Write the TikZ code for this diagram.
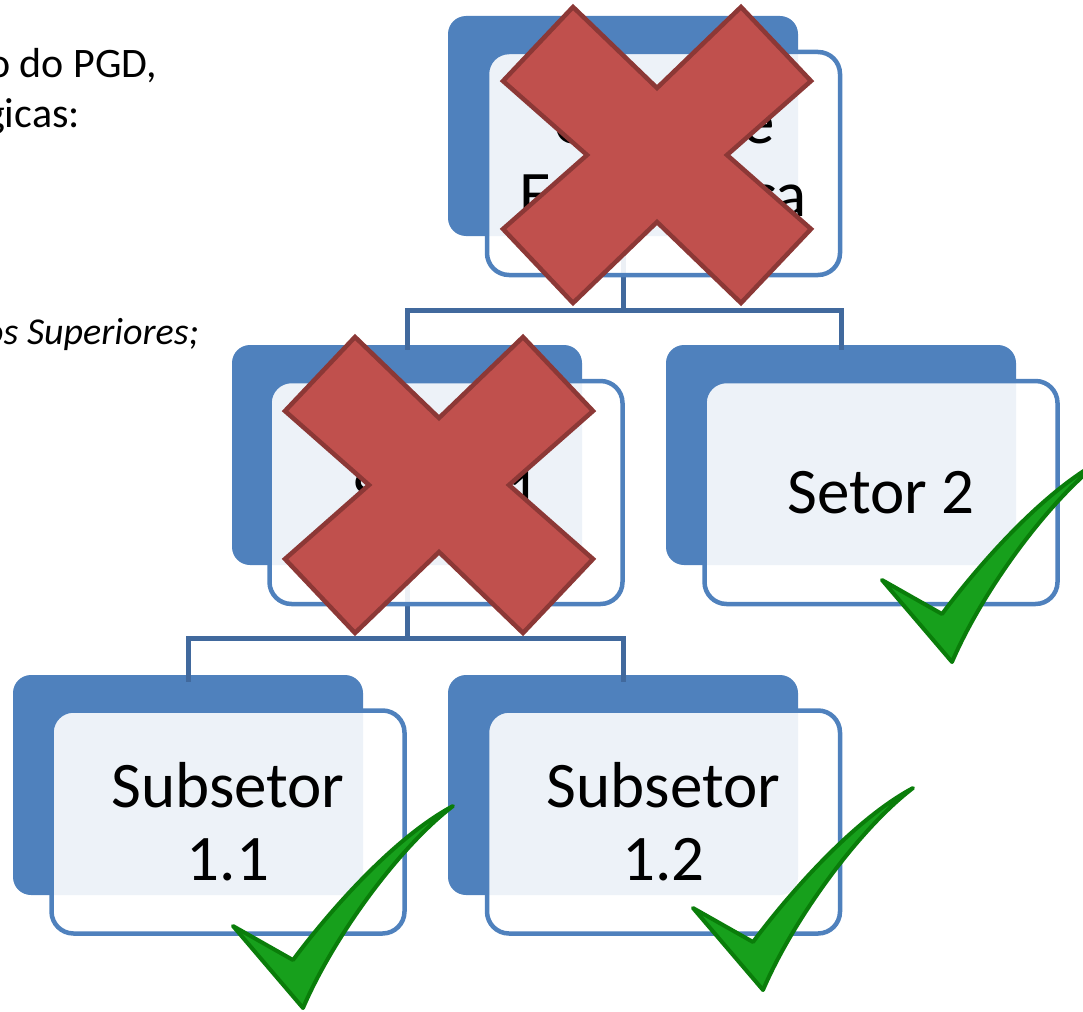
\documentclass[tikz,border=0pt]{standalone}
\usepackage{fontspec}
\setmainfont{Carlito}
\definecolor{boxblue}{HTML}{4F81BD}
\definecolor{connblue}{HTML}{41699D}
\definecolor{xred}{HTML}{C0504D}
\definecolor{xredline}{HTML}{8C3836}
\definecolor{okgreen}{HTML}{17A01C}
\definecolor{okgreenline}{HTML}{0A7D0A}
\tikzset{
  backbox/.style={fill=boxblue, draw=none, rounded corners=18pt, minimum width=350pt, minimum height=220pt, inner sep=0pt, outer sep=0pt},
  frontbox/.style={draw=boxblue, line width=4.5pt, fill=white, fill opacity=0.9, text opacity=1, rounded corners=22pt, minimum width=353pt, minimum height=223pt, align=center, font=\fontsize{65}{73}\selectfont, inner sep=0pt},
  conn/.style={draw=connblue, line width=5pt},
  xmark/.style={fill=xred, draw=xredline, line width=4.5pt, line join=miter},
  okmark/.style={fill=okgreen, draw=okgreenline, line width=4pt, line join=round},
  lefttext/.style={font=\fontsize{42}{50}\selectfont, anchor=base east, inner sep=0pt},
  xpic/.pic={
    \path[xmark] (0,-67) -- (84,-148) -- (154,-74) -- (70,0) -- (154,74) -- (84,148) -- (0,67)
      -- (-84,148) -- (-154,74) -- (-70,0) -- (-154,-74) -- (-84,-148) -- cycle;
  },
  okpic/.pic={
    \path[okmark] (0,0) -- (-70,-82) -- (-10,-48) .. controls (25,-95) and (90,-170) .. (150,-202)
      .. controls (95,-160) and (30,-70) .. (0,0) -- cycle;
  }
}
\begin{document}
\begin{tikzpicture}[x=1pt,y=-1pt]
\useasboundingbox (0,0) rectangle (1083,1011);

% left text fragments
\node[lefttext] (t1) at (157,78) {o do PGD,};
\node[lefttext] (t2) at (80,128) {gicas:};
\node[lefttext, font=\fontsize{38}{46}\selectfont\itshape] (t3) at (199,344) {os Superiores;};

% back boxes
\node[backbox] (topb) at (623,126) {};
\node[backbox] (s1b) at (407,455) {};
\node[backbox] (s2b) at (841,455) {};
\node[backbox] (u1b) at (188,785) {};
\node[backbox] (u2b) at (623,785) {};

% connectors
\coordinate (j1) at (623,310);
\coordinate (j2) at (407,638);
\draw[conn] (topb.south) -- (j1);
\draw[conn] (j1) -| ([yshift=-5pt]s1b.north);
\draw[conn] (j1) -| ([yshift=-5pt]s2b.north);
\draw[conn] (s1b.south) -- (j2);
\draw[conn] (j2) -| ([yshift=-7pt]u1b.north);
\draw[conn] (j2) -| ([yshift=-7pt]u2b.north);

% front boxes
\node[frontbox] (topf) at (663.5,163.5) {Unidade\\Estratégica};
\node[frontbox] (s1f) at (446,492.5) {Setor 1};
\node[frontbox] (s2f) at (881,492.5) {Setor 2};
\node[frontbox] (u1f) at (228,822) {Subsetor\\1.1};
\node[frontbox] (u2f) at (663.5,822) {Subsetor\\1.2};

% marks
\pic at (657,155) {xpic};
\pic at (439,485) {xpic};
\pic at (952,662) {okpic};
\pic at (303,1008) {okpic};
\pic at (763,990) {okpic};
\end{tikzpicture}
\end{document}
